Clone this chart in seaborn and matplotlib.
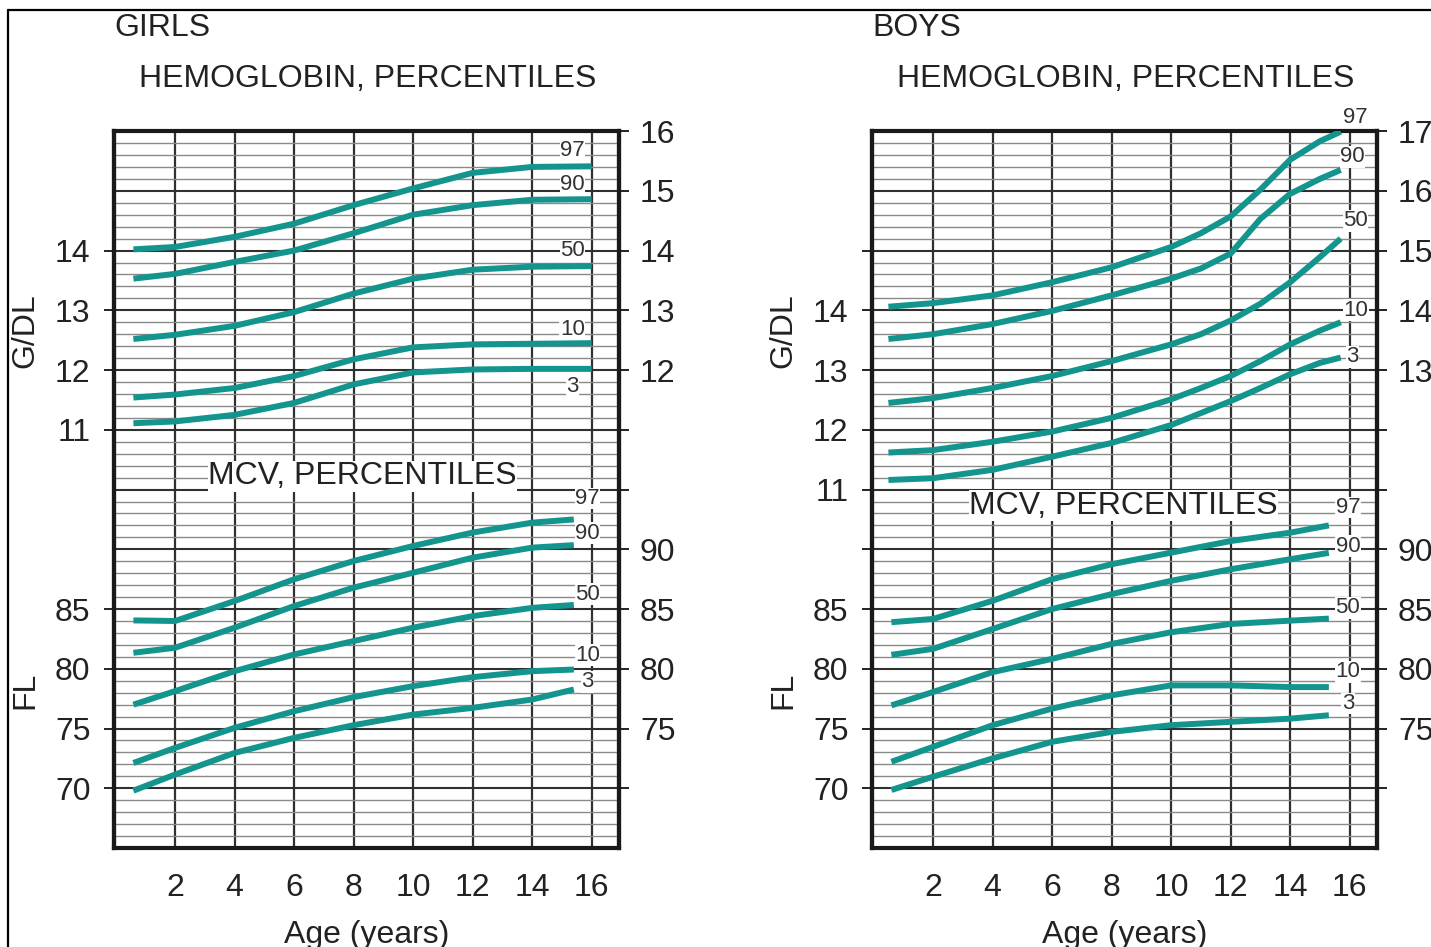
import numpy as np
import pandas as pd
import seaborn as sns
import matplotlib.pyplot as plt
from matplotlib.lines import Line2D
from matplotlib.ticker import MultipleLocator

# percentiles drawn in every block
PCTS = [97, 90, 50, 10, 3]

# girls hemoglobin (g/dL)
girls_hb_age = [0.6, 2, 4, 6, 8, 10, 12, 14, 16]
girls_hb = {
    97: [14.02, 14.06, 14.23, 14.45, 14.76, 15.04, 15.30, 15.40, 15.41],
    90: [13.53, 13.61, 13.81, 14.00, 14.29, 14.60, 14.76, 14.85, 14.86],
    50: [12.52, 12.59, 12.74, 12.97, 13.28, 13.53, 13.68, 13.73, 13.74],
    10: [11.54, 11.59, 11.70, 11.90, 12.18, 12.38, 12.43, 12.44, 12.45],
    3: [11.11, 11.14, 11.25, 11.45, 11.76, 11.96, 12.01, 12.02, 12.02],
}

# girls MCV (fL)
girls_mcv_age = [0.6, 2, 4, 6, 8, 10, 12, 14, 15.4]
girls_mcv = {
    97: [84.05, 84.0, 85.67, 87.49, 89.02, 90.28, 91.4, 92.23, 92.5],
    90: [81.34, 81.76, 83.44, 85.25, 86.79, 88.04, 89.30, 90.14, 90.35],
    50: [77.0, 78.13, 79.8, 81.2, 82.32, 83.44, 84.41, 85.1, 85.34],
    10: [72.12, 73.38, 75.06, 76.45, 77.63, 78.55, 79.3, 79.8, 79.94],
    3: [69.8, 71.15, 72.96, 74.22, 75.28, 76.17, 76.73, 77.43, 78.27],
}

# boys hemoglobin (g/dL)
boys_hb_age = [0.5, 2, 4, 6, 8, 10, 11, 12, 13, 14, 15, 15.7]
boys_hb = {
    97: [14.06, 14.12, 14.25, 14.47, 14.72, 15.06, 15.29, 15.57, 16.02, 16.52, 16.83, 16.99],
    90: [13.52, 13.60, 13.77, 13.99, 14.25, 14.53, 14.70, 14.95, 15.53, 15.95, 16.20, 16.35],
    50: [12.45, 12.53, 12.70, 12.90, 13.15, 13.43, 13.60, 13.83, 14.11, 14.47, 14.89, 15.20],
    10: [11.62, 11.66, 11.80, 11.97, 12.20, 12.51, 12.70, 12.90, 13.15, 13.43, 13.66, 13.80],
    3: [11.16, 11.19, 11.33, 11.55, 11.78, 12.08, 12.28, 12.48, 12.70, 12.93, 13.12, 13.21],
}

# boys MCV (fL)
boys_mcv_age = [0.6, 2, 4, 6, 8, 10, 12, 14, 15.3]
boys_mcv = {
    97: [83.9, 84.17, 85.69, 87.5, 88.75, 89.72, 90.69, 91.39, 92.0],
    90: [81.17, 81.67, 83.33, 85.0, 86.25, 87.36, 88.33, 89.17, 89.7],
    50: [76.94, 78.06, 79.72, 80.83, 82.08, 83.06, 83.75, 84.03, 84.2],
    10: [72.22, 73.47, 75.28, 76.67, 77.78, 78.61, 78.61, 78.47, 78.47],
    3: [69.86, 70.97, 72.5, 73.89, 74.72, 75.28, 75.56, 75.83, 76.11],
}

age_ticks = [2, 4, 6, 8, 10, 12, 14, 16]

TEAL = "#13958e"
INK = "#222222"
FS = 23


def mcv_to_row(m, hb_of_mcv85):
    # MCV shares the chart: 5 fL per hemoglobin unit, 85 fL sits at hb_of_mcv85
    return hb_of_mcv85 + (np.asarray(m) - 85) / 5.0


def long_frame(ages, table, convert=None):
    rows = []
    for p in PCTS:
        vals = np.asarray(table[p], dtype=float)
        if convert is not None:
            vals = convert(vals)
        for a, v in zip(ages, vals):
            rows.append({"age": a, "y": v, "pct": p})
    return pd.DataFrame(rows)


def draw_panel(ax, sex, hb_age, hb, mcv_age, mcv, ylim, mcv85,
               left_hb, right_hb, left_mcv, right_mcv, extra_left,
               lab_hb, lab_mcv, mcv_title_xy):
    palette = {p: TEAL for p in PCTS}
    d_hb = long_frame(hb_age, hb)
    d_mcv = long_frame(mcv_age, mcv, lambda v: mcv_to_row(v, mcv85))
    for d in (d_hb, d_mcv):
        sns.lineplot(data=d, x="age", y="y", hue="pct", palette=palette,
                     legend=False, linewidth=4.3, ax=ax, estimator=None,
                     solid_capstyle="butt", solid_joinstyle="round", zorder=5)

    ax.set_xlim(-0.05, 16.92)
    ax.set_ylim(*ylim)
    ax.set_axisbelow(True)
    ax.yaxis.set_major_locator(MultipleLocator(1))
    ax.yaxis.set_minor_locator(MultipleLocator(0.2))
    ax.set_xticks(age_ticks)
    ax.set_xticklabels([str(t) for t in age_ticks])
    ax.grid(which="minor", axis="y", color="#8a8a8a", lw=1.0)
    ax.grid(which="major", axis="y", color="#303030", lw=1.5)
    ax.grid(which="major", axis="x", color="#303030", lw=1.6)
    ax.tick_params(axis="y", which="both", left=False, labelleft=False)
    ax.tick_params(axis="x", length=7, width=1.4, pad=11, labelsize=FS,
                   colors=INK, direction="out")
    for s in ax.spines.values():
        s.set_linewidth(3.0)
        s.set_color("#1a1a1a")
    ax.set_xlabel("Age (years)", fontsize=FS, color=INK, labelpad=12)
    ax.set_ylabel("")

    # left scale
    lpos = list(left_hb) + [mcv_to_row(m, mcv85) for m in left_mcv]
    llab = [str(v) for v in left_hb] + [str(v) for v in left_mcv]
    for e in extra_left:
        lpos.append(e)
        llab.append("")
    sec_l = ax.secondary_yaxis("left")
    sec_l.set_yticks(lpos, llab)
    sec_l.tick_params(length=7, width=1.4, pad=10, labelsize=FS, colors=INK)
    sec_l.spines["left"].set_linewidth(3.0)

    # right scale: a tick on every major line
    rpos = list(range(int(ylim[0]) + 1, int(ylim[1]) + 1))
    rlab = []
    for r in rpos:
        txt = ""
        for h in right_hb:
            if h == r:
                txt = str(h)
        for m in right_mcv:
            if abs(mcv_to_row(m, mcv85) - r) < 1e-6:
                txt = str(m)
        rlab.append(txt)
    sec_r = ax.secondary_yaxis("right")
    sec_r.set_yticks(rpos, rlab)
    sec_r.tick_params(length=7, width=1.4, pad=8, labelsize=FS, colors=INK)
    sec_r.spines["right"].set_linewidth(3.0)

    # headings and axis words
    ax.text(0.0, 1.144, sex, transform=ax.transAxes, ha="left", va="center",
            fontsize=FS, color=INK)
    ax.text(0.05, 1.073, "HEMOGLOBIN, PERCENTILES", transform=ax.transAxes,
            ha="left", va="center", fontsize=FS, color=INK)
    ax.text(-0.175, 0.722, "G/DL", transform=ax.transAxes, rotation=90,
            ha="center", va="center", fontsize=FS, color=INK)
    ax.text(-0.175, 0.22, "FL", transform=ax.transAxes, rotation=90,
            ha="center", va="center", fontsize=FS, color=INK)
    ax.text(mcv_title_xy[0], mcv_title_xy[1], "MCV, PERCENTILES",
            ha="center", va="center", fontsize=FS, color=INK, zorder=6,
            bbox=dict(facecolor="white", edgecolor="none", pad=0.5))

    # percentile tags
    bb = dict(facecolor="white", edgecolor="none", pad=0.3)
    for p, (x, y) in zip(PCTS, lab_hb):
        ax.text(x, y, str(p), ha="center", va="center", fontsize=16,
                color="#333333", bbox=bb, zorder=6, clip_on=False)
    for p, (x, y) in zip(PCTS, lab_mcv):
        ax.text(x, y, str(p), ha="center", va="center", fontsize=16,
                color="#333333", bbox=bb, zorder=6, clip_on=False)


def main():
    sns.set_theme(style="white")
    plt.rcParams["font.family"] = ["Liberation Sans", "DejaVu Sans"]

    fig = plt.figure(figsize=(14.31, 9.47), dpi=100)
    ax_g = fig.add_axes([0.0797, 0.1045, 0.3529, 0.7571])
    ax_b = fig.add_axes([0.6094, 0.1045, 0.3529, 0.7571])

    draw_panel(ax_g, "GIRLS", girls_hb_age, girls_hb, girls_mcv_age, girls_mcv,
               ylim=(4, 16), mcv85=8,
               left_hb=[14, 13, 12, 11], right_hb=[16, 15, 14, 13, 12],
               left_mcv=[85, 80, 75, 70], right_mcv=[90, 85, 80, 75],
               extra_left=[],
               lab_hb=[(15.35, 15.67), (15.35, 15.1), (15.35, 14.0),
                       (15.35, 12.68), (15.35, 11.72)],
               lab_mcv=[(15.86, 9.85), (15.86, 9.27), (15.86, 8.25),
                        (15.86, 7.23), (15.86, 6.78)],
               mcv_title_xy=(8.3, 10.22))

    draw_panel(ax_b, "BOYS", boys_hb_age, boys_hb, boys_mcv_age, boys_mcv,
               ylim=(5, 17), mcv85=9,
               left_hb=[14, 13, 12, 11], right_hb=[17, 16, 15, 14, 13],
               left_mcv=[85, 80, 75, 70], right_mcv=[90, 85, 80, 75],
               extra_left=[15, 10],
               lab_hb=[(16.2, 17.23), (16.1, 16.57), (16.2, 15.5),
                       (16.2, 14.0), (16.1, 13.22)],
               lab_mcv=[(15.94, 10.7), (15.94, 10.05), (15.94, 9.02),
                        (15.94, 7.95), (15.94, 7.42)],
               mcv_title_xy=(8.4, 10.73))

    # outer frame, top and left edges
    x0 = 8 / 1431
    y0 = 1 - 10 / 947
    fig.add_artist(Line2D([x0, x0], [0, y0], color="black", lw=1.6))
    fig.add_artist(Line2D([x0, 1], [y0, y0], color="black", lw=1.6))

    fig.savefig("out.png", dpi=100, facecolor="white")


if __name__ == "__main__":
    main()
